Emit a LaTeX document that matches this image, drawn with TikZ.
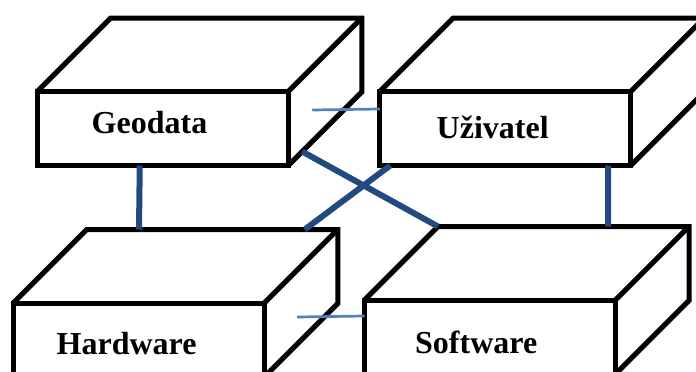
\documentclass[tikz,border=0pt]{standalone}
\usepackage{fontspec}
\setmainfont{Liberation Serif}
\usetikzlibrary{calc}

\definecolor{linkdark}{RGB}{35,74,128}
\definecolor{linklight}{RGB}{79,129,189}

\tikzset{
  slabface/.style={draw=black, line width=5pt, line join=miter,
    minimum width=251pt, minimum height=74pt, inner sep=0pt, outer sep=0pt},
  slabedge/.style={draw=black, line width=5pt, line join=miter},
  slabtext/.style={inner sep=0pt, anchor=base west,
    font=\bfseries\fontsize{32}{37}\selectfont},
  heavylink/.style={draw=linkdark, line width=6pt},
  lightlink/.style={draw=linklight, line width=2.7pt},
}

% top and right side of a slab whose front face is node #1
\newcommand\slabback[1]{%
  \coordinate (#1-bnw) at ($(#1.north west)+(73.5,-73.5)$);
  \coordinate (#1-bne) at ($(#1.north east)+(73.5,-73.5)$);
  \coordinate (#1-bse) at ($(#1.south east)+(73.5,-73.5)$);
  \draw[slabedge] (#1.north west) -- (#1-bnw) -- (#1-bne) -- (#1-bse) -- (#1.south east);
  \draw[slabedge] (#1.north east) -- (#1-bne);
}

\begin{document}
\begin{tikzpicture}[x=1pt, y=-1pt]
  \useasboundingbox (0,0) rectangle (696,372);
  \clip (0,0) rectangle (696,372);

  % front faces
  \node[slabface] (geo)  at (162.75,128.5) {};
  \node[slabface] (uziv) at (505.25,128.5) {};
  \node[slabface] (hw)   at (138.75,340)   {};
  \node[slabface] (sw)   at (490,337)      {};

  \slabback{geo}
  \slabback{uziv}
  \slabback{hw}
  \slabback{sw}

  % labels
  \node[slabtext] (geoText)  at (91.5,133.3)  {Geodata};
  \node[slabtext] (uzivText) at (436.5,138.3) {Uživatel};
  \node[slabtext] (hwText)   at (56.5,354)    {Hardware};
  \node[slabtext] (swText)   at (415,353.3)   {Software};

  % connections
  \draw[heavylink] ($(geo.south west)+(102.5,0)$) -- ($(hw-bnw)+(52.25,0)$);
  \draw[heavylink] ($(uziv.south west)+(228.5,0)$) -- ($(sw-bnw)+(170,0)$);
  \draw[heavylink] ($(geo.south east)!0.19!(geo-bse)$) -- (sw-bnw);
  \draw[heavylink] ($(uziv.south west)+(10.5,0)$) -- ($(hw-bnw)+(218,0)$);
  \draw[lightlink] ($(uziv.north west)+(0,17.5)$) -- ++(-67.5,1);
  \draw[lightlink] ($(sw.north west)+(0,16)$) -- ++(-67.5,1);
\end{tikzpicture}
\end{document}
